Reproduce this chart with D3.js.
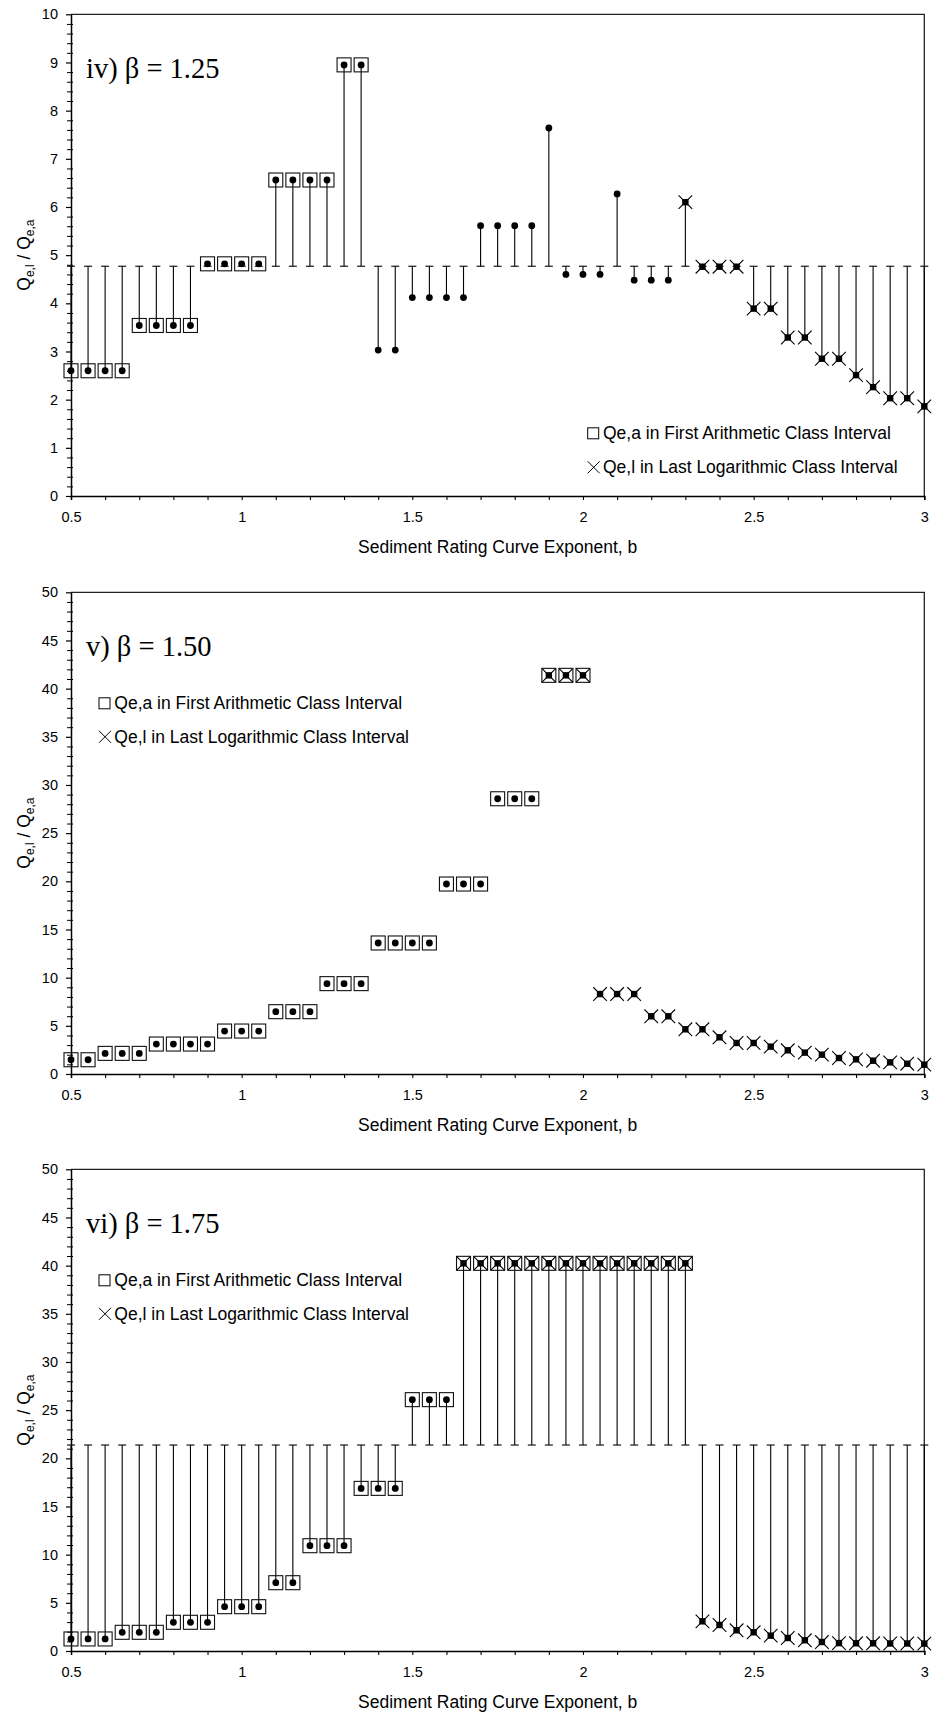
<!DOCTYPE html>
<html><head><meta charset="utf-8">
<script src="https://cdn.jsdelivr.net/npm/d3@7"></script>
<style>body{margin:0;background:#fff}</style>
</head><body>
<svg id="c" width="934" height="1714"></svg>
<script>
// ---------- data ----------
const bValues = [0.5,0.55,0.6,0.65,0.7,0.75,0.8,0.85,0.9,0.95,1.0,1.05,1.1,1.15,1.2,1.25,1.3,1.35,1.4,1.45,1.5,1.55,1.6,1.65,1.7,1.75,1.8,1.85,1.9,1.95,2.0,2.05,2.1,2.15,2.2,2.25,2.3,2.35,2.4,2.45,2.5,2.55,2.6,2.65,2.7,2.75,2.8,2.85,2.9,2.95,3.0];

const ratioIV = [2.6,2.6,2.6,2.6, 3.54,3.54,3.54,3.54, 4.82,4.82,4.82,4.82, 6.56,6.56,6.56,6.56, 8.95,8.95, 3.03,3.03, 4.12,4.12,4.12,4.12, 5.61,5.61,5.61,5.61, 7.64, 4.6,4.6,4.6, 6.27, 4.48,4.48,4.48, 6.1, 4.76,4.76,4.76, 3.89,3.89, 3.29,3.29, 2.85,2.85, 2.51, 2.26, 2.03,2.03, 1.86];
const ratioV = [1.48,1.48, 2.14,2.14,2.14, 3.11,3.11,3.11,3.11, 4.46,4.46,4.46, 6.47,6.47,6.47, 9.38,9.38,9.38, 13.6,13.6,13.6,13.6, 19.72,19.72,19.72, 28.57,28.57,28.57, 41.38,41.38,41.38, 8.3,8.3,8.3, 5.99,5.99, 4.64,4.64, 3.81, 3.22,3.22, 2.84, 2.46, 2.22, 2.01, 1.66, 1.52, 1.38, 1.21, 1.07, 0.97];
const ratioVI = [1.25,1.25,1.25, 1.94,1.94,1.94, 2.98,2.98,2.98, 4.6,4.6,4.6, 7.09,7.09, 10.93,10.93,10.93, 16.88,16.88,16.88, 26.09,26.09,26.09, 40.24,40.24,40.24,40.24,40.24,40.24,40.24,40.24,40.24,40.24,40.24,40.24,40.24,40.24, 3.08,2.7,2.15,1.94,1.59,1.35,1.11,0.93,0.82,0.8,0.8,0.78,0.78,0.77];

// b ranges where Qe,a lies in first arithmetic class (square) / Qe,l in last logarithmic class (cross)
const squareRangeIV = [0.5, 1.35], crossRangeIV = [2.3, 3.0];
const squareRangeV = [0.5, 2.0],  crossRangeV = [1.9, 3.0];
const squareRangeVI = [0.5, 2.3], crossRangeVI = [1.65, 3.0];

// reference level of the drop lines
const baseIV = 4.77, baseV = null, baseVI = 21.38;

const titles = ["iv) \u03B2 = 1.25", "v) \u03B2 = 1.50", "vi) \u03B2 = 1.75"];
const yMaxes = [10, 50, 50];
const yMajorTicksIV = [0,1,2,3,4,5,6,7,8,9,10];
const yMajorTicks50 = [0,5,10,15,20,25,30,35,40,45,50];
const xMajorTicks = [0.5,1,1.5,2,2.5,3];
const xMinorTicks = [0.5,0.6,0.7,0.8,0.9,1,1.1,1.2,1.3,1.4,1.5,1.6,1.7,1.8,1.9,2,2.1,2.2,2.3,2.4,2.5,2.6,2.7,2.8,2.9,3];
const legendLabels = ["Qe,a in First Arithmetic Class Interval", "Qe,l in Last Logarithmic Class Interval"];
const xTitle = "Sediment Rating Curve Exponent, b";

// ---------- drawing ----------
const svg = d3.select("#c");
const SANS = "'Liberation Sans', Arial, sans-serif";
const SERIF = "'Liberation Serif', 'Times New Roman', serif";
const L = 71, R = 924.3, PH = 481.7;
const x = d3.scaleLinear().domain([0.5, 3]).range([L, R]);

const panels = [
  {top: 14.3, vals: ratioIV, sq: squareRangeIV, cr: crossRangeIV, base: baseIV, ymax: 10, ticks: yMajorTicksIV, minorStep: 0.2, legend: "br"},
  {top: 592.3, vals: ratioV, sq: squareRangeV, cr: crossRangeV, base: baseV, ymax: 50, ticks: yMajorTicks50, minorStep: 1, legend: "tl"},
  {top: 1169.3, vals: ratioVI, sq: squareRangeVI, cr: crossRangeVI, base: baseVI, ymax: 50, ticks: yMajorTicks50, minorStep: 1, legend: "tl"}
];

const inRange = (b, r) => b >= r[0] - 1e-9 && b <= r[1] + 1e-9;

panels.forEach((p, pi) => {
  const bottom = p.top + PH;
  const y = d3.scaleLinear().domain([0, p.ymax]).range([bottom, p.top]);
  const g = svg.append("g");
  const data = bValues.map((b, i) => ({b, v: p.vals[i]}));

  // frame top/right
  g.append("path").attr("d", `M${L},${p.top}H${R}V${bottom}`)
    .attr("fill", "none").attr("stroke", "#222").attr("stroke-width", 1.3);

  // minor y ticks
  const minors = d3.range(0, p.ymax + 1e-9, p.minorStep).filter(v => p.ticks.indexOf(+v.toFixed(3)) < 0);
  const yMinorAxis = d3.axisLeft(y).tickValues(minors).tickSize(4).tickFormat("");
  const gm = g.append("g").attr("transform", `translate(${L},0)`).call(yMinorAxis);
  gm.select(".domain").remove();
  gm.selectAll("line").attr("x1", 2).attr("stroke", "#000");

  // y axis
  const yAxis = d3.axisLeft(y).tickValues(p.ticks).tickSizeInner(5).tickSizeOuter(0).tickPadding(8)
    .tickFormat(d3.format("d"));
  const gy = g.append("g").attr("transform", `translate(${L},0)`).call(yAxis);
  gy.select(".domain").attr("stroke", "#000").attr("stroke-width", 1.5);
  gy.selectAll("line").attr("stroke", "#000").attr("stroke-width", 1.2);
  gy.selectAll("text").attr("font-family", SANS).attr("font-size", 14.5).attr("fill", "#000");

  // x axis
  const xAxisMinor = d3.axisBottom(x).tickValues(xMinorTicks).tickSize(4).tickFormat("");
  const gxm = g.append("g").attr("transform", `translate(0,${bottom})`).call(xAxisMinor);
  gxm.select(".domain").attr("stroke", "#000").attr("stroke-width", 1.5);
  gxm.selectAll("line").attr("stroke", "#000").attr("stroke-width", 1.1);
  const xAxis = d3.axisBottom(x).tickValues(xMajorTicks).tickSize(0).tickPadding(16).tickFormat(d => String(d));
  const gx = g.append("g").attr("transform", `translate(0,${bottom})`).call(xAxis);
  gx.select(".domain").remove();
  gx.selectAll("text").attr("font-family", SANS).attr("font-size", 14.5).attr("fill", "#000");

  // axis titles
  g.append("text").attr("x", (L + R) / 2).attr("y", bottom + 51).attr("dy", "0.35em")
    .attr("text-anchor", "middle").attr("font-family", SANS).attr("font-size", 17.5).text(xTitle);
  const yl = g.append("text").attr("transform", `translate(30,${(p.top + bottom) / 2}) rotate(-90)`)
    .attr("text-anchor", "middle").attr("font-family", SANS).attr("font-size", 17.5);
  yl.append("tspan").text("Q");
  yl.append("tspan").attr("dy", 4).attr("font-size", 12).text("e,l");
  yl.append("tspan").attr("dy", -4).text(" / Q");
  yl.append("tspan").attr("dy", 4).attr("font-size", 12).text("e,a");

  // drop lines with caps
  if (p.base !== null) {
    g.selectAll(".stem").data(data).join("line")
      .attr("x1", d => x(d.b)).attr("x2", d => x(d.b))
      .attr("y1", y(p.base)).attr("y2", d => y(d.v))
      .attr("stroke", "#000").attr("stroke-width", 1.1);
    g.selectAll(".cap").data(data).join("line")
      .attr("x1", d => x(d.b) - 4).attr("x2", d => x(d.b) + 4)
      .attr("y1", y(p.base)).attr("y2", y(p.base))
      .attr("stroke", "#000").attr("stroke-width", 1.1);
  }

  // points
  const crossPts = data.filter(d => inRange(d.b, p.cr));
  const dotPts = data.filter(d => !inRange(d.b, p.cr));
  g.selectAll(".dot").data(dotPts).join("circle")
    .attr("cx", d => x(d.b)).attr("cy", d => y(d.v)).attr("r", 3.4).attr("fill", "#000");
  g.selectAll(".sqc").data(crossPts).join("rect")
    .attr("x", d => x(d.b) - 3.2).attr("y", d => y(d.v) - 3.2).attr("width", 6.4).attr("height", 6.4).attr("fill", "#000");
  // squares
  g.selectAll(".box").data(data.filter(d => inRange(d.b, p.sq))).join("rect")
    .attr("x", d => x(d.b) - 7).attr("y", d => y(d.v) - 7).attr("width", 14).attr("height", 14)
    .attr("fill", "none").attr("stroke", "#111").attr("stroke-width", 1.1);
  // crosses
  g.selectAll(".cross").data(crossPts).join("path")
    .attr("d", d => { const cx = x(d.b), cy = y(d.v), h = 6.8;
      return `M${cx-h},${cy-h}L${cx+h},${cy+h}M${cx-h},${cy+h}L${cx+h},${cy-h}`; })
    .attr("stroke", "#000").attr("stroke-width", 1.1).attr("fill", "none");

  // title
  g.append("text").attr("x", 86).attr("y", p.top + 64).attr("font-family", SERIF).attr("font-size", 28.5)
    .attr("fill", "#000").text(titles[pi]);

  // legend
  let lx, ly1, ly2;
  if (p.legend === "br") { lx = 587.7; ly1 = bottom - 62.7; ly2 = bottom - 28.7; }
  else { lx = 99; ly1 = p.top + 111; ly2 = p.top + 144.5; }
  g.append("rect").attr("x", lx).attr("y", ly1 - 5.5).attr("width", 11).attr("height", 11)
    .attr("fill", "none").attr("stroke", "#000").attr("stroke-width", 1);
  g.append("path").attr("d", `M${lx},${ly2-6}L${lx+12},${ly2+6}M${lx},${ly2+6}L${lx+12},${ly2-6}`)
    .attr("stroke", "#000").attr("stroke-width", 1).attr("fill", "none");
  [ly1, ly2].forEach((ly, k) => {
    g.append("text").attr("x", lx + 15.3).attr("y", ly).attr("dy", "0.35em")
      .attr("font-family", SANS).attr("font-size", 17.5).attr("fill", "#000").text(legendLabels[k]);
  });
});
</script>
</body></html>
